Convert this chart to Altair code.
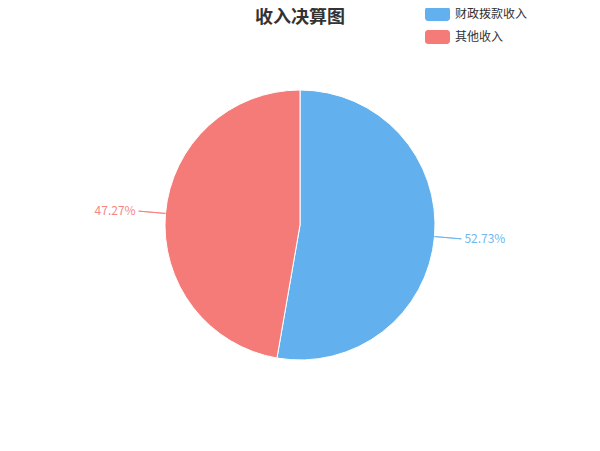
import altair as alt
import pandas as pd

title_text = ["收入决算图"]
categories = ["财政拨款收入", "其他收入"]
values = [52.73, 47.27]
colors = ["#62B1EE", "#F47B77"]

df = pd.DataFrame({"cat": categories, "value": values, "idx": list(range(len(values)))})

FONT = "Noto Sans CJK SC"
CX, CY, R = 292, 217, 135

base = (
    alt.Chart(df)
    .transform_window(cum="sum(value)", sort=[alt.SortField("idx")])
    .transform_joinaggregate(total="sum(value)")
    .transform_calculate(
        start="2*PI*(datum.cum - datum.value)/datum.total",
        end="2*PI*datum.cum/datum.total",
        mid="2*PI*(datum.cum - datum.value/2)/datum.total",
        label="format(datum.value/datum.total*100, '.2f') + '%'",
    )
)

color = alt.Color(
    "cat:N",
    scale=alt.Scale(domain=categories, range=colors),
    legend=alt.Legend(title=None),
)
stroke = alt.Stroke(
    "cat:N", scale=alt.Scale(domain=categories, range=colors), legend=None
)

arc = base.mark_arc(radius=R, stroke="white", strokeWidth=1).encode(
    theta=alt.Theta("start:Q", scale=None),
    theta2="end:Q",
    color=color,
    x=alt.value(CX),
    y=alt.value(CY),
)

lines = base.mark_arc(radius=R + 27, radius2=R, fillOpacity=0, strokeWidth=1,
                      strokeOpacity=0.8).encode(
    theta=alt.Theta("mid:Q", scale=None),
    theta2="mid:Q",
    stroke=stroke,
    x=alt.value(CX),
    y=alt.value(CY),
)

text_r = base.transform_filter("datum.mid < PI").mark_text(
    align="left", baseline="middle", radius=R + 30, fontSize=12, font=FONT,
    opacity=0.9
).encode(
    theta=alt.Theta("mid:Q", scale=None),
    text="label:N",
    color=color,
    x=alt.value(CX),
    y=alt.value(CY),
)

text_l = base.transform_filter("datum.mid >= PI").mark_text(
    align="right", baseline="middle", radius=R + 30, fontSize=12, font=FONT,
    opacity=0.9
).encode(
    theta=alt.Theta("mid:Q", scale=None),
    text="label:N",
    color=color,
    x=alt.value(CX),
    y=alt.value(CY),
)

title_layer = alt.Chart(pd.DataFrame({"t": title_text})).mark_text(
    fontSize=18, fontWeight="bold", font=FONT, color="#333333",
    baseline="middle", align="center"
).encode(text="t:N", x=alt.value(CX), y=alt.value(9.5))

rr = ("M-0.95,-0.7 H0.95 A0.3,0.3 0 0 1 1.25,-0.4 V0.4 "
      "A0.3,0.3 0 0 1 0.95,0.7 H-0.95 A0.3,0.3 0 0 1 -1.25,0.4 "
      "V-0.4 A0.3,0.3 0 0 1 -0.95,-0.7 Z")

chart = (
    alt.layer(arc, lines, text_r, text_l, title_layer)
    .properties(width=584, height=435, padding=0,
                autosize=alt.AutoSizeParams(type="none"))
    .configure_view(stroke=None)
    .configure_legend(
        orient="none", legendX=419.5, legendY=-4, padding=0,
        symbolType=rr, symbolSize=400, symbolStrokeWidth=0, symbolOpacity=1,
        labelFontSize=12, labelFont=FONT, labelColor="#333333",
        labelOffset=7.5, rowPadding=6, direction="vertical",
    )
)

chart.save("out.html", embed_options={"renderer": "svg", "actions": False})
